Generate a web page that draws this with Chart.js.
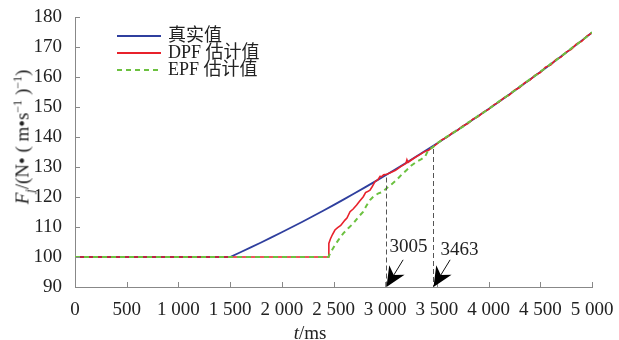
<!DOCTYPE html>
<html>
<head>
<meta charset="utf-8">
<script src="https://cdn.jsdelivr.net/npm/chart.js@4.4.0/dist/chart.umd.min.js"></script>
<style>
  html, body { margin: 0; padding: 0; background: #fff; }
  #wrap { position: relative; width: 619px; height: 340px; }
  canvas { display: block; }
  .ttl { position: absolute; font-family: "Liberation Serif", "Noto Sans CJK SC", serif; font-size: 19px; color: #222; white-space: nowrap; line-height: 1; }
  .ttl sub, .ttl sup { font-size: 12px; line-height: 0; }
  #ytitle { left: 22px; top: 137px; transform: translate(-50%, -50%) rotate(-90deg); }
  #xtitle { left: 310px; top: 332px; transform: translate(-50%, -50%); }
</style>
</head>
<body>
<div id="wrap">
  <canvas id="chart" width="619" height="340"></canvas>
  <div class="ttl" id="ytitle"><i>F</i><sub><i>j</i></sub>/(N• ( m•s<sup>−1</sup> )<sup>−1</sup>)</div>
  <div class="ttl" id="xtitle"><i>t</i>/ms</div>
</div>
<script>
// --- data (t in ms, F in N/(m/s)) ---
const trueT = [0, 1500, 1600, 1700, 1800, 1900, 2000, 2100, 2200, 2300, 2400, 2500, 2600, 2700, 2800, 2900, 3000,
  3100, 3200, 3300, 3400, 3500, 3600, 3700, 3800, 3900, 4000, 4100, 4200, 4300, 4400, 4500, 4600, 4700, 4800, 4900, 5000];
const trueF = [100, 100, 101.58, 103.2, 104.85, 106.53, 108.24, 109.99, 111.77, 113.58, 115.42, 117.3, 119.21, 121.15, 123.13, 125.13, 127.17,
  129.24, 131.35, 133.49, 135.66, 137.86, 140.1, 142.36, 144.66, 147.0, 149.36, 151.76, 154.19, 156.66, 159.15, 161.68, 164.24, 166.84, 169.46, 172.12, 174.81];

const dpfT = [0, 2450, 2455, 2470, 2490, 2514, 2540, 2570, 2611, 2630, 2660, 2690, 2724, 2750, 2788, 2810, 2830, 2853, 2875, 2901,
  2930, 2950, 2966, 2985, 3014, 3050, 3100, 3150, 3200, 3210, 3220, 3260, 3300, 3340, 3380, 3420, 3463, 3500, 3550, 3600,
  3650, 3700, 3750, 3800, 3850, 3900, 3950, 4000, 4050, 4100, 4150, 4200, 4250, 4300, 4350, 4400, 4450, 4500, 4550, 4600,
  4650, 4700, 4750, 4800, 4850, 4900, 4950, 5000];
const dpfF = [100, 100, 104.5, 106, 107.5, 109, 109.8, 110.5, 112.3, 113, 115.1, 116, 117.3, 118.5, 120.1, 121.5, 121.8, 122.3, 123.5, 125.1,
  125.8, 126.9, 126.8, 127.4, 127.6, 128.1, 128.9, 130.1, 131.2, 132.4, 131.5, 132.5, 133.4, 134.2, 135.1, 135.6, 136.7, 137.7, 139.1, 140.0,
  141.4, 142.2, 143.7, 144.5, 146.0, 146.8, 148.3, 149.2, 150.7, 151.6, 153.1, 154.0, 155.6, 156.5, 158.1, 159.0, 160.6, 161.5, 163.3, 164.0,
  165.8, 166.6, 168.3, 169.2, 171.0, 171.9, 173.6, 174.7];

const epfT = [0, 2450, 2480, 2514, 2550, 2595, 2640, 2692, 2740, 2788, 2820, 2853, 2890, 2934, 2970, 3014, 3060, 3111, 3160, 3208,
  3250, 3305, 3350, 3385, 3417, 3463, 3500, 3550, 3600, 3650, 3700, 3750, 3800, 3850, 3900, 3950, 4000, 4050, 4100, 4150,
  4200, 4250, 4300, 4350, 4400, 4450, 4500, 4550, 4600, 4650, 4700, 4750, 4800, 4850, 4900, 4950, 5000];
const epfF = [100, 100, 102, 104, 105.8, 107.9, 109.5, 111.2, 113.3, 115.1, 117.2, 119, 120.3, 121.2, 121.6, 122.9, 124.2, 125.7, 127.5, 129,
  130.4, 131.8, 132.6, 133.4, 135.7, 136.6, 137.9, 139.0, 140.2, 141.1, 142.5, 143.4, 144.8, 145.7, 147.1, 148.1, 149.5, 150.5, 151.9, 152.9,
  154.3, 155.4, 156.8, 157.9, 159.3, 160.4, 161.8, 162.9, 164.4, 165.5, 167.0, 168.1, 169.6, 170.7, 172.2, 173.4, 174.9];

const seriesNames = ['真实值', 'DPF 估计值', 'EPF 估计值'];

// convergence markers
const markT = [3005, 3463];
const markF = [126.5, 136.0];
const markLabels = ['3005', '3463'];

const FONT = '"Liberation Serif", "Noto Sans CJK SC", serif';

function pts(ts, fs) { return ts.map((t, i) => ({ x: t, y: fs[i] })); }

function fmtThousands(v) {
  if (v < 1000) return String(v);
  return Math.floor(v / 1000) + ' ' + String(v % 1000).padStart(3, '0');
}

// inner ticks, markers with arrows, legend
const overlay = {
  id: 'overlay',
  afterDatasetsDraw(chart) {
    const { ctx, chartArea: a, scales: { x, y } } = chart;
    ctx.save();

    // ticks pointing into the plot
    ctx.strokeStyle = '#888';
    ctx.lineWidth = 1;
    x.ticks.forEach(t => {
      const px = Math.round(x.getPixelForValue(t.value)) + 0.5;
      ctx.beginPath(); ctx.moveTo(px, a.bottom); ctx.lineTo(px, a.bottom - 5); ctx.stroke();
    });
    y.ticks.forEach(t => {
      const py = Math.round(y.getPixelForValue(t.value)) + 0.5;
      ctx.beginPath(); ctx.moveTo(a.left, py); ctx.lineTo(a.left + 5, py); ctx.stroke();
    });

    // dashed drop lines + arrows + labels
    markT.forEach((t, i) => {
      const px = Math.round(x.getPixelForValue(t)) + 0.5;
      const top = y.getPixelForValue(markF[i]);
      ctx.strokeStyle = '#555';
      ctx.lineWidth = 1;
      ctx.setLineDash([5, 3]);
      ctx.beginPath(); ctx.moveTo(px, top); ctx.lineTo(px, a.bottom); ctx.stroke();
      ctx.setLineDash([]);

      const tipX = px, tipY = a.bottom;
      const ux = 0.52, uy = -0.85, nx = 0.85, ny = 0.52;
      ctx.strokeStyle = '#111';
      ctx.beginPath(); ctx.moveTo(tipX + 12 * ux, tipY + 12 * uy); ctx.lineTo(tipX + 32 * ux, tipY + 32 * uy); ctx.stroke();
      ctx.fillStyle = '#000';
      ctx.beginPath();
      ctx.moveTo(tipX, tipY);
      ctx.lineTo(tipX + 20 * ux + 9 * nx, tipY + 20 * uy + 9 * ny);
      ctx.lineTo(tipX + 14 * ux, tipY + 14 * uy);
      ctx.lineTo(tipX + 20 * ux - 9 * nx, tipY + 20 * uy - 9 * ny);
      ctx.closePath();
      ctx.fill();

      ctx.fillStyle = '#222';
      ctx.font = '19px ' + FONT;
      ctx.textAlign = 'center';
      ctx.textBaseline = 'middle';
      ctx.fillText(markLabels[i], px + 22 + i * 4, a.bottom - 40 + i * 3);
    });

    // legend in upper-left corner of the plot
    chart.data.datasets.forEach((ds, i) => {
      const ly = 36 + i * 17;
      ctx.strokeStyle = ds.borderColor;
      ctx.lineWidth = 2;
      ctx.setLineDash(ds.borderDash || []);
      ctx.beginPath(); ctx.moveTo(117, ly); ctx.lineTo(161, ly); ctx.stroke();
      ctx.setLineDash([]);
      ctx.fillStyle = '#222';
      ctx.font = '18px ' + FONT;
      ctx.textAlign = 'left';
      ctx.textBaseline = 'middle';
      ctx.fillText(ds.label, 168, ly);
    });

    ctx.restore();
  }
};

const tickFont = { family: FONT, size: 19 };

new Chart(document.getElementById('chart'), {
  type: 'line',
  data: {
    datasets: [
      { label: seriesNames[0], data: pts(trueT, trueF), borderColor: '#2f3f9e', borderWidth: 1.8, order: 2 },
      { label: seriesNames[1], data: pts(dpfT, dpfF), borderColor: '#e8212b', borderWidth: 1.6, order: 1 },
      { label: seriesNames[2], data: pts(epfT, epfF), borderColor: '#6cc140', borderWidth: 2, borderDash: [5, 4], order: 0 }
    ]
  },
  options: {
    responsive: false,
    animation: false,
    elements: { point: { radius: 0 }, line: { tension: 0 } },
    layout: { padding: { top: 17, right: 27, left: 0, bottom: 0 } },
    plugins: { legend: { display: false }, tooltip: { enabled: false } },
    scales: {
      x: {
        type: 'linear', min: 0, max: 5000,
        grid: { display: false },
        border: { color: '#888', width: 1 },
        ticks: { stepSize: 500, autoSkip: false, maxRotation: 0, padding: 4, color: '#222', font: tickFont, callback: v => fmtThousands(v) },
        afterFit: s => { s.height = 53; }
      },
      y: {
        type: 'linear', min: 90, max: 180,
        grid: { display: false },
        border: { color: '#888', width: 1 },
        ticks: { stepSize: 10, padding: 5, color: '#222', font: tickFont },
        afterFit: s => { s.width = 75; }
      }
    }
  },
  plugins: [overlay]
});
</script>
</body>
</html>
